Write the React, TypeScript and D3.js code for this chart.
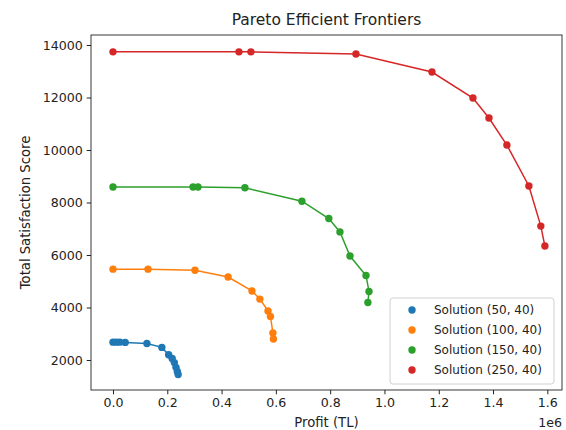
import React, { useEffect, useRef } from 'react';
import * as d3 from 'd3';

// Profit (TL) and satisfaction values
const series = ['Solution (50, 40)', 'Solution (100, 40)', 'Solution (150, 40)', 'Solution (250, 40)'];
const colors = ['#1f77b4', '#ff7f0e', '#2ca02c', '#d62728'];

const profit50 = [0, 12000, 25000, 45000, 125000, 180000, 205000, 218000, 226000, 232000, 237000, 240000];
const score50 = [2680, 2680, 2680, 2670, 2630, 2480, 2200, 2060, 1900, 1720, 1560, 1450];

const profit100 = [0, 129000, 302000, 424000, 512000, 541000, 571000, 580000, 589000, 591000];
const score100 = [5460, 5460, 5420, 5160, 4630, 4320, 3870, 3660, 3030, 2800];

const profit150 = [0, 295000, 313000, 486000, 696000, 795000, 836000, 873000, 932000, 943000, 939000];
const score150 = [8590, 8590, 8590, 8560, 8050, 7390, 6880, 5960, 5220, 4610, 4190];

const profit250 = [0, 464000, 508000, 895000, 1175000, 1326000, 1385000, 1451000, 1532000, 1576000, 1591000];
const score250 = [13740, 13740, 13740, 13660, 12970, 11980, 11220, 10190, 8630, 7100, 6340];

const xTicks = [0, 0.2e6, 0.4e6, 0.6e6, 0.8e6, 1.0e6, 1.2e6, 1.4e6, 1.6e6];
const yTicks = [2000, 4000, 6000, 8000, 10000, 12000, 14000];

const profits = [profit50, profit100, profit150, profit250];
const scores = [score50, score100, score150, score250];

export default function App() {
  const svgRef = useRef<SVGSVGElement>(null);

  useEffect(() => {
    if (!svgRef.current) return;
    const width = 566;
    const height = 430;
    const margin = { top: 35, right: 4, bottom: 40, left: 91 };
    const font = 'DejaVu Sans, sans-serif';

    const svg = d3.select(svgRef.current);
    svg.selectAll('*').remove();

    const x = d3.scaleLinear()
      .domain([-81000, 1654000])
      .range([margin.left, width - margin.right]);
    const y = d3.scaleLinear()
      .domain([857, 14381])
      .range([height - margin.bottom, margin.top]);

    svg.append('rect')
      .attr('width', width).attr('height', height).attr('fill', '#fff');

    // lines + dots
    series.forEach((name, i) => {
      const pts = profits[i].map((p, j) => [p, scores[i][j]] as [number, number]);
      const line = d3.line<[number, number]>().x(d => x(d[0])).y(d => y(d[1]));
      svg.append('path')
        .attr('d', line(pts))
        .attr('fill', 'none')
        .attr('stroke', colors[i])
        .attr('stroke-width', 1.5);
      svg.append('g').selectAll('circle')
        .data(pts)
        .enter()
        .append('circle')
        .attr('cx', d => x(d[0]))
        .attr('cy', d => y(d[1]))
        .attr('r', 3.7)
        .attr('fill', colors[i]);
    });

    // x axis
    const xAxis = svg.append('g')
      .attr('transform', `translate(0,${height - margin.bottom})`)
      .call(d3.axisBottom(x).tickValues(xTicks).tickSize(4.3).tickPadding(4)
        .tickFormat(d => (+d / 1e6).toFixed(1)));
    xAxis.select('.domain').remove();
    xAxis.selectAll('text').attr('font-family', font).attr('font-size', 12.6).attr('fill', '#222');
    xAxis.selectAll('line').attr('stroke', '#222');

    // y axis
    const yAxis = svg.append('g')
      .attr('transform', `translate(${margin.left},0)`)
      .call(d3.axisLeft(y).tickValues(yTicks).tickSize(4.3).tickPadding(4).tickFormat(d => String(d)));
    yAxis.select('.domain').remove();
    yAxis.selectAll('text').attr('font-family', font).attr('font-size', 12.6).attr('fill', '#222');
    yAxis.selectAll('line').attr('stroke', '#222');

    // frame
    svg.append('rect')
      .attr('x', margin.left).attr('y', margin.top)
      .attr('width', width - margin.right - margin.left)
      .attr('height', height - margin.bottom - margin.top)
      .attr('fill', 'none').attr('stroke', '#222').attr('stroke-width', 0.9);

    // title and labels
    svg.append('text')
      .attr('x', (margin.left + width - margin.right) / 2).attr('y', 25)
      .attr('text-anchor', 'middle').attr('font-family', font).attr('font-size', 15.5).attr('fill', '#222')
      .text('Pareto Efficient Frontiers');
    svg.append('text')
      .attr('x', (margin.left + width - margin.right) / 2).attr('y', 427)
      .attr('text-anchor', 'middle').attr('font-family', font).attr('font-size', 13.2).attr('fill', '#222')
      .text('Profit (TL)');
    svg.append('text')
      .attr('x', width - margin.right).attr('y', 427)
      .attr('text-anchor', 'end').attr('font-family', font).attr('font-size', 12.6).attr('fill', '#222')
      .text('1e6');
    svg.append('text')
      .attr('transform', `translate(30,${(margin.top + height - margin.bottom) / 2}) rotate(-90)`)
      .attr('text-anchor', 'middle').attr('font-family', font).attr('font-size', 13.2).attr('fill', '#222')
      .text('Total Satisfaction Score');

    // legend
    const lg = svg.append('g').attr('transform', 'translate(390,298)');
    lg.append('rect')
      .attr('width', 164).attr('height', 86).attr('rx', 3)
      .attr('fill', 'rgba(255,255,255,0.8)').attr('stroke', '#d0d0d0');
    series.forEach((name, i) => {
      lg.append('circle')
        .attr('cx', 22).attr('cy', 12 + i * 20)
        .attr('r', 3.7).attr('fill', colors[i]);
      lg.append('text')
        .attr('x', 44).attr('y', 12 + i * 20).attr('dy', '0.35em')
        .attr('font-family', font).attr('font-size', 12).attr('fill', '#222')
        .text(name);
    });
  }, []);

  return (
    <svg ref={svgRef} width={566} height={430}
      style={{ position: 'absolute', left: 0, top: 0, display: 'block' }} />
  );
}
